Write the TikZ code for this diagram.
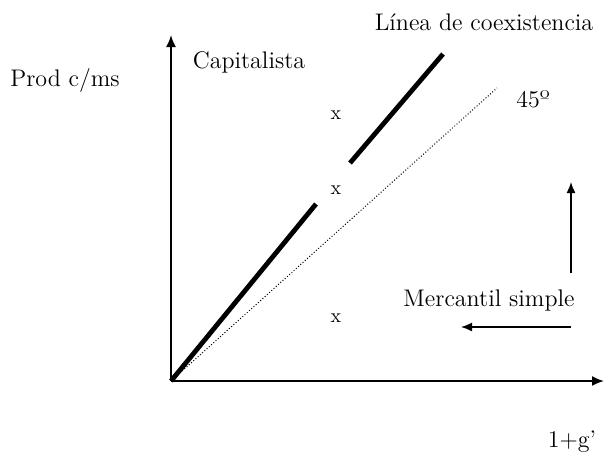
\documentclass[tikz,border=0pt]{standalone}
\usepackage{tikz}
\usetikzlibrary{arrows.meta,positioning}

\begin{document}
\begin{tikzpicture}[
    x=0.5pt, y=-0.5pt,
    every node/.style={font=\large, inner sep=1pt},
    axis/.style={-{Latex[length=6pt,width=5pt]}, line width=0.9pt},
    coex/.style={line width=2.4pt},
    diag/.style={densely dotted, line width=0.5pt},
    shiftarrow/.style={-{Latex[length=5.5pt,width=4.5pt]}, line width=0.7pt},
    xmark/.style={font=\normalsize}
]
    \useasboundingbox (0,0) rectangle (604,457);

    % Axes
    \coordinate (origin) at (171,381);
    \coordinate (ytop) at (171,35);
    \coordinate (xright) at (604,381);
    \draw[axis] (origin) -- (ytop);
    \draw[axis] (origin) -- (xright);
    \node (ylabel) at (65,80) {Prod c/ms};
    \node (xlabel) at (572,442) {1+g'};

    % Coexistence line (interrupted)
    \coordinate (gapstart) at (316,204);
    \coordinate (gapend) at (350,163);
    \coordinate (coexend) at (443,54);
    \draw[coex] (origin) -- (gapstart);
    \draw[coex] (gapend) -- (coexend);
    \node (coexlabel) at (484,22) {L\'inea de coexistencia};

    % 45 degree line
    \coordinate (diagend) at (497,88);
    \draw[diag] (origin) -- (diagend);
    \node (anglelabel) at (533,99) {45º};

    % Regions
    \node (capital) at (249,62) {Capitalista};
    \node (mercantil) at (489,300) {Mercantil simple};
    \node[xmark] (x1) at (336,115) {x};
    \node[xmark] (x2) at (336,190) {x};
    \node[xmark] (x3) at (336,318) {x};

    % Shift arrows
    \coordinate (corner) at (571,273);
    \coordinate (uptip) at (571,182);
    \coordinate (lowcorner) at (571,327);
    \coordinate (lefttip) at (461,327);
    \draw[shiftarrow] (corner) -- (uptip);
    \draw[shiftarrow] (lowcorner) -- (lefttip);
\end{tikzpicture}
\end{document}
